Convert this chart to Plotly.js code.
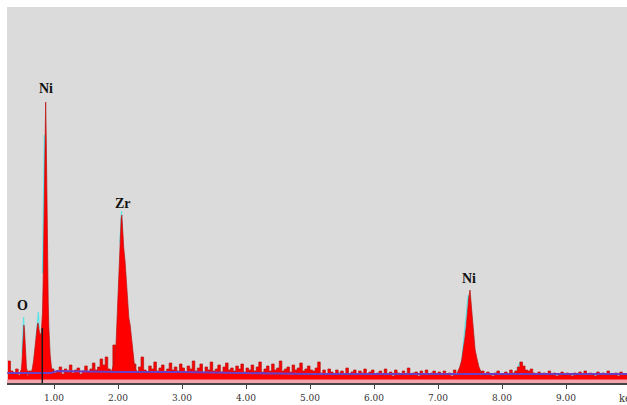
<!DOCTYPE html>
<html>
<head>
<meta charset="utf-8">
<script src="https://cdn.plot.ly/plotly-3.0.1.min.js"></script>
<style>html,body{margin:0;padding:0;background:#fff;}#chart{width:627px;height:405px;}</style>
</head>
<body>
<div id="chart"></div>
<script>
// ---- data (counts in arbitrary units) ----
var bgStart = 0.28, bgStep = 0.04;   // channel grid of the background spectrum (keV)
var bgCounts = [
 22,12,9,14,8,11,10,7,12,9,13,10,8,15,11,9,12,14,10,
 12,16,9,14,11,18,10,13,15,9,12,17,11,14,20,13,16,24,18,26,14,12,38,16,20,
 15,18,22,14,12,19,11,16,26,13,10,17,14,21,12,15,18,11,14,20,13,16,12,19,15,
 11,17,14,22,12,15,19,10,16,13,21,12,14,18,11,16,20,13,15,12,17,14,19,11,15,
 13,18,12,16,21,11,14,17,12,19,13,15,22,12,14,16,11,18,13,15,20,12,14,17,13,
 12,15,21,10,13,9,14,11,8,13,10,12,9,15,8,11,13,9,12,10,14,8,11,13,9,
 10,12,8,14,9,11,7,13,10,8,12,9,15,8,10,11,7,12,9,13,8,10,12,9,11,
 8,12,9,10,7,13,9,11,8,10,9,12,8,11,9,10,12,8,11,9,7,10,12,9,8,
 11,9,13,10,12,16,21,17,13,12,14,10,9,11,8,10,9,12,8,10,7,9,11,8,10,
 9,7,10,8,11,9,12,8,10,9,7,11,8,10,9,12,8,9,10,7,11,9,8,10
];
var oE = [0.47,0.49,0.50,0.51,0.52,0.53,0.54,0.55,0.56,0.57,0.59];
var oC = [10,14,22,36,50,58,52,38,24,15,11];
var niLE = [0.64,0.66,0.68,0.70,0.72,0.74,0.75,0.76,0.78,0.80,0.82,0.83,0.84,0.85,0.86,0.87,0.88,0.89,0.90,0.91,0.92,0.93,0.94,0.96,0.98];
var niLC = [10,14,22,36,50,58,60,55,48,50,70,100,150,215,262,281,240,170,115,80,55,40,28,16,12];
var zrE = [1.90,1.94,1.97,1.99,2.01,2.03,2.05,2.06,2.07,2.09,2.11,2.13,2.15,2.17,2.19,2.21,2.23,2.26,2.30];
var zrC = [12,20,40,75,110,145,165,168,150,135,122,100,78,65,58,45,28,16,11];
var niKE = [7.30,7.34,7.37,7.40,7.42,7.44,7.46,7.48,7.50,7.52,7.54,7.56,7.58,7.61,7.64,7.68];
var niKC = [10,16,23,35,45,56,72,85,93,78,60,45,33,24,16,10];
// second (cyan) overlay spectrum, visible near the peak tops
var cyanO_E = [0.50,0.515,0.525,0.54], cyanO_C = [30,50,66,45];
var cyanLl_E = [0.72,0.74,0.755,0.77], cyanLl_C = [45,62,71,55];
var cyanNiL_E = [0.82,0.835,0.85,0.858,0.866], cyanNiL_C = [110,190,248,236,200];
var cyanZr_E = [2.03,2.045,2.055,2.065], cyanZr_C = [140,165,172,150];
var cyanNiK_E = [7.36,7.40,7.44,7.47,7.49], cyanNiK_C = [15,40,70,88,80];
var cyanKb_E = [8.22,8.26,8.28,8.31], cyanKb_C = [10,18,21,14];
// fitted background (purple line)
var fitE = [0.27,0.95,1.05,2.0,3.0,4.0,5.0,6.0,7.0,8.0,9.0,9.96];
var fitC = [10,10,12,11,11,10,9,9,9,9,9,9];
// marker line
var markE = [0.817,0.817], markC = [0,55];
// labels
var labelText = ["O","Ni","Zr","Ni"];
var labelE = [0.50,0.875,2.08,7.48];
var labelC = [78,295,180,105];
var tickVals = [1,2,3,4,5,6,7,8,9];
var tickText = ["1.00","2.00","3.00","4.00","5.00","6.00","7.00","8.00","9.00"];

var bgE = bgCounts.map(function(_, i){ return +(bgStart + bgStep*i).toFixed(2); });

var RED = "#ff0000", REDLINE = "#b41414", CYAN = "#5fe3e6";
var traces = [];
[[cyanO_E,cyanO_C],[cyanLl_E,cyanLl_C],[cyanNiL_E,cyanNiL_C],[cyanZr_E,cyanZr_C],[cyanNiK_E,cyanNiK_C],[cyanKb_E,cyanKb_C]].forEach(function(p){
  traces.push({x:p[0], y:p[1], type:"scatter", mode:"lines", line:{color:CYAN, width:1.2}, hoverinfo:"skip"});
});
traces.push({x:bgE, y:bgCounts, type:"scatter", mode:"lines", fill:"tozeroy", fillcolor:RED, line:{color:REDLINE, width:0.7, shape:"hv"}, hoverinfo:"skip"});
[[oE,oC],[niLE,niLC],[zrE,zrC],[niKE,niKC]].forEach(function(p){
  traces.push({x:p[0], y:p[1], type:"scatter", mode:"lines", fill:"tozeroy", fillcolor:RED, line:{color:REDLINE, width:0.7}, hoverinfo:"skip"});
});
traces.push({x:[bgE[0]-0.02, bgE[bgE.length-1]], y:[3.5,3.5], type:"scatter", mode:"lines", fill:"tozeroy", fillcolor:"#f2a3ad", line:{width:0, color:"#f2a3ad"}, hoverinfo:"skip"});
traces.push({x:fitE, y:fitC, type:"scatter", mode:"lines", line:{color:"#6a3fc4", width:2}, hoverinfo:"skip"});
traces.push({x:markE, y:markC, type:"scatter", mode:"lines", line:{color:"#1a1a1a", width:1.5}, hoverinfo:"skip"});

var annotations = labelText.map(function(t, i){
  return {x:labelE[i], y:labelC[i], xref:"x", yref:"y", text:"<b>"+t+"</b>", showarrow:false,
    font:{family:"Liberation Serif, DejaVu Serif, serif", size:14, color:"#111"}, xanchor:"center", yanchor:"middle"};
});
annotations.push({x:(617-7)/620, y:-0.04, xref:"paper", yref:"paper", text:"keV", showarrow:false,
  font:{family:"DejaVu Serif Condensed, Liberation Serif, serif", size:11, color:"#333"}, xanchor:"left", yanchor:"middle"});

var layout = {
  width:627, height:405,
  margin:{l:7, r:0, t:7, b:22, pad:0},
  paper_bgcolor:"#ffffff", plot_bgcolor:"#dbdbdb",
  showlegend:false,
  xaxis:{range:[0.2656, 9.953], tickvals:tickVals, ticktext:tickText, ticks:"outside", ticklen:4, tickcolor:"#444", tickwidth:1,
    showline:true, linecolor:"#444", linewidth:1.5, showgrid:false, zeroline:false,
    tickfont:{family:"DejaVu Serif Condensed, Liberation Serif, serif", size:10, color:"#333"}},
  yaxis:{range:[0,376], visible:false, showgrid:false, zeroline:false},
  annotations:annotations
};
Plotly.newPlot("chart", traces, layout, {staticPlot:true, displayModeBar:false});
</script>
</body>
</html>
